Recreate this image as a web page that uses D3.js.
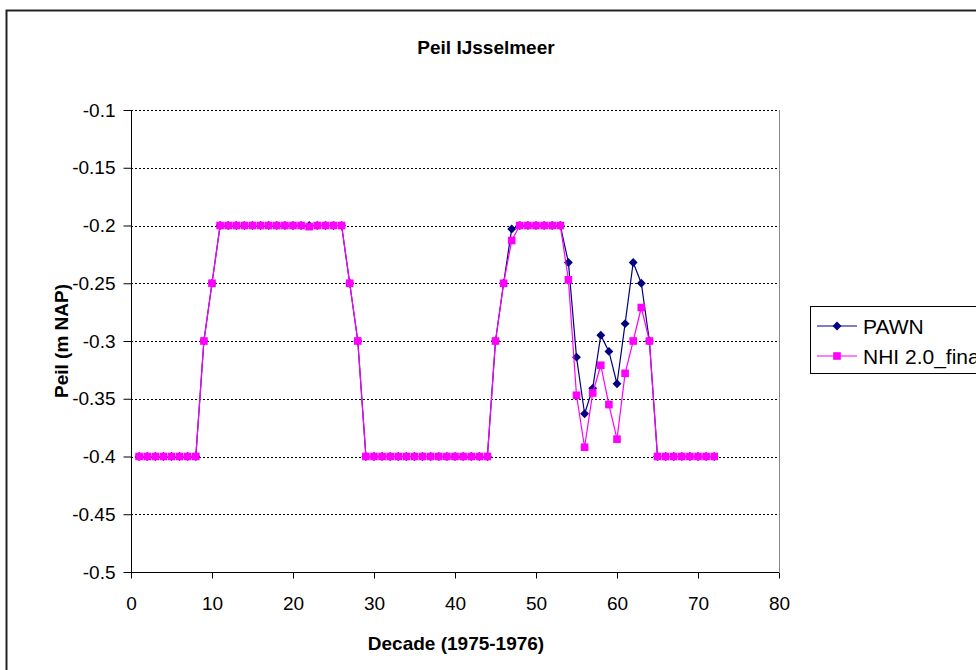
<!DOCTYPE html>
<html>
<head>
<meta charset="utf-8">
<script src="https://cdn.jsdelivr.net/npm/d3@7"></script>
<style>
  body { margin: 0; background: #fff; }
  svg text { font-family: "Liberation Sans", Arial, sans-serif; fill: #000; }
</style>
</head>
<body>
<svg id="chart" width="976" height="670"></svg>
<script>
// Decades 1..72 of the 1975-1976 run
const decades = [
  1, 2, 3, 4, 5, 6, 7, 8, 9, 10, 11, 12, 13, 14, 15, 16, 17, 18,
  19, 20, 21, 22, 23, 24, 25, 26, 27, 28, 29, 30, 31, 32, 33, 34, 35, 36,
  37, 38, 39, 40, 41, 42, 43, 44, 45, 46, 47, 48, 49, 50, 51, 52, 53, 54,
  55, 56, 57, 58, 59, 60, 61, 62, 63, 64, 65, 66, 67, 68, 69, 70, 71, 72
];

// Water level (m NAP), PAWN
const pawn = [
  -0.4, -0.4, -0.4, -0.4, -0.4, -0.4, -0.4, -0.4, -0.3, -0.25,
  -0.2, -0.2, -0.2, -0.2, -0.2, -0.2, -0.2, -0.2, -0.2, -0.2,
  -0.2, -0.2, -0.2, -0.2, -0.2, -0.2, -0.25, -0.3,
  -0.4, -0.4, -0.4, -0.4, -0.4, -0.4, -0.4, -0.4, -0.4, -0.4,
  -0.4, -0.4, -0.4, -0.4, -0.4, -0.4, -0.3, -0.25, -0.203,
  -0.2, -0.2, -0.2, -0.2, -0.2, -0.2,
  -0.232, -0.314, -0.363, -0.341, -0.295, -0.309, -0.337, -0.285, -0.232, -0.25, -0.3,
  -0.4, -0.4, -0.4, -0.4, -0.4, -0.4, -0.4, -0.4
];

// Water level (m NAP), NHI 2.0_final
const nhi = [
  -0.4, -0.4, -0.4, -0.4, -0.4, -0.4, -0.4, -0.4, -0.3, -0.25,
  -0.2, -0.2, -0.2, -0.2, -0.2, -0.2, -0.2, -0.2, -0.2, -0.2,
  -0.2, -0.201, -0.2, -0.2, -0.2, -0.2, -0.25, -0.3,
  -0.4, -0.4, -0.4, -0.4, -0.4, -0.4, -0.4, -0.4, -0.4, -0.4,
  -0.4, -0.4, -0.4, -0.4, -0.4, -0.4, -0.3, -0.25, -0.213,
  -0.2, -0.2, -0.2, -0.2, -0.2, -0.2,
  -0.247, -0.347, -0.392, -0.345, -0.321, -0.355, -0.385, -0.328, -0.3, -0.271, -0.3,
  -0.4, -0.4, -0.4, -0.4, -0.4, -0.4, -0.4, -0.4
];

const xTicks = [0, 10, 20, 30, 40, 50, 60, 70, 80];
const yTicks = [-0.5, -0.45, -0.4, -0.35, -0.3, -0.25, -0.2, -0.15, -0.1];
const seriesNames = ["PAWN", "NHI 2.0_final"];

const svg = d3.select("#chart");

// outer chart frame (runs off the right and bottom edge)
svg.append("rect")
  .attr("x", 6.5).attr("y", 10.5)
  .attr("width", 1000).attr("height", 700)
  .attr("fill", "#fff")
  .attr("stroke", "#222")
  .attr("stroke-width", 2);

const plot = { left: 131, right: 779, top: 110, bottom: 572 };

const x = d3.scaleLinear().domain([0, 80]).range([plot.left, plot.right]);
const y = d3.scaleLinear().domain([-0.5, -0.1]).range([plot.bottom, plot.top]);

// dotted gridlines
svg.append("g")
  .selectAll("line")
  .data(yTicks.filter(d => d > -0.5))
  .join("line")
  .attr("x1", plot.left).attr("x2", plot.right)
  .attr("y1", d => Math.round(y(d)) + 0.5).attr("y2", d => Math.round(y(d)) + 0.5)
  .attr("stroke", "#000")
  .attr("stroke-width", 1)
  .attr("stroke-dasharray", "2,2");

// plot area right edge
svg.append("line")
  .attr("x1", plot.right + 0.5).attr("x2", plot.right + 0.5)
  .attr("y1", plot.top).attr("y2", plot.bottom)
  .attr("stroke", "#888");

// axes
const xAxis = d3.axisBottom(x).tickValues(xTicks).tickSize(6).tickPadding(18).tickFormat(d3.format("d"));
const gx = svg.append("g")
  .attr("transform", `translate(0,${plot.bottom + 0.5})`)
  .call(xAxis);

const yAxis = d3.axisLeft(y).tickValues(yTicks).tickSize(8).tickPadding(8).tickFormat(d => String(d));
const gy = svg.append("g")
  .attr("transform", `translate(${plot.left + 0.5},0)`)
  .call(yAxis);

[gx, gy].forEach(g => {
  g.select(".domain").attr("stroke", "#000");
  g.selectAll(".tick line").attr("stroke", "#000");
  g.selectAll(".tick text")
    .attr("font-family", "Liberation Sans, Arial, sans-serif")
    .attr("font-size", 19)
    .attr("fill", "#000");
});
gx.select(".domain").attr("d", `M${plot.left},0H${plot.right}`);
gy.select(".domain").attr("d", `M0,${plot.top}V${plot.bottom}`);

// titles
svg.append("text")
  .attr("x", 486).attr("y", 54)
  .attr("text-anchor", "middle")
  .attr("font-size", 19).attr("font-weight", "bold")
  .text("Peil IJsselmeer");

svg.append("text")
  .attr("x", 456).attr("y", 650)
  .attr("text-anchor", "middle")
  .attr("font-size", 19).attr("font-weight", "bold")
  .text("Decade (1975-1976)");

svg.append("text")
  .attr("transform", "translate(68,341) rotate(-90)")
  .attr("text-anchor", "middle")
  .attr("font-size", 19).attr("font-weight", "bold")
  .text("Peil (m NAP)");

// series
const pawnData = decades.map((d, i) => ({ x: d, y: pawn[i] }));
const nhiData = decades.map((d, i) => ({ x: d, y: nhi[i] }));

const line = d3.line().x(d => x(d.x)).y(d => y(d.y));
const diamond = d3.symbol().type(d3.symbolDiamond2).size(50);
const square = d3.symbol().type(d3.symbolSquare).size(58);

function drawSeries(data, color, symbol) {
  const g = svg.append("g");
  g.append("path")
    .datum(data)
    .attr("d", line)
    .attr("fill", "none")
    .attr("stroke", color)
    .attr("stroke-width", 1.2);
  g.selectAll("path.marker")
    .data(data)
    .join("path")
    .attr("class", "marker")
    .attr("transform", d => `translate(${x(d.x)},${y(d.y)})`)
    .attr("d", symbol)
    .attr("fill", color);
}

drawSeries(pawnData, "#000080", diamond);
drawSeries(nhiData, "#ff00ff", square);

// legend
const legend = svg.append("g");
legend.append("rect")
  .attr("x", 810.5).attr("y", 306.5)
  .attr("width", 200).attr("height", 67)
  .attr("fill", "#fff").attr("stroke", "#000");

const legendItems = [
  { name: seriesNames[0], color: "#000080", symbol: diamond, cy: 326 },
  { name: seriesNames[1], color: "#ff00ff", symbol: square, cy: 356 }
];
legendItems.forEach(item => {
  legend.append("line")
    .attr("x1", 817).attr("x2", 857)
    .attr("y1", item.cy).attr("y2", item.cy)
    .attr("stroke", item.color).attr("stroke-width", 1.2);
  legend.append("path")
    .attr("transform", `translate(837,${item.cy})`)
    .attr("d", item.symbol)
    .attr("fill", item.color);
  legend.append("text")
    .attr("x", 863).attr("y", item.cy + 7.5)
    .attr("font-size", 21)
    .text(item.name);
});
</script>
</body>
</html>
